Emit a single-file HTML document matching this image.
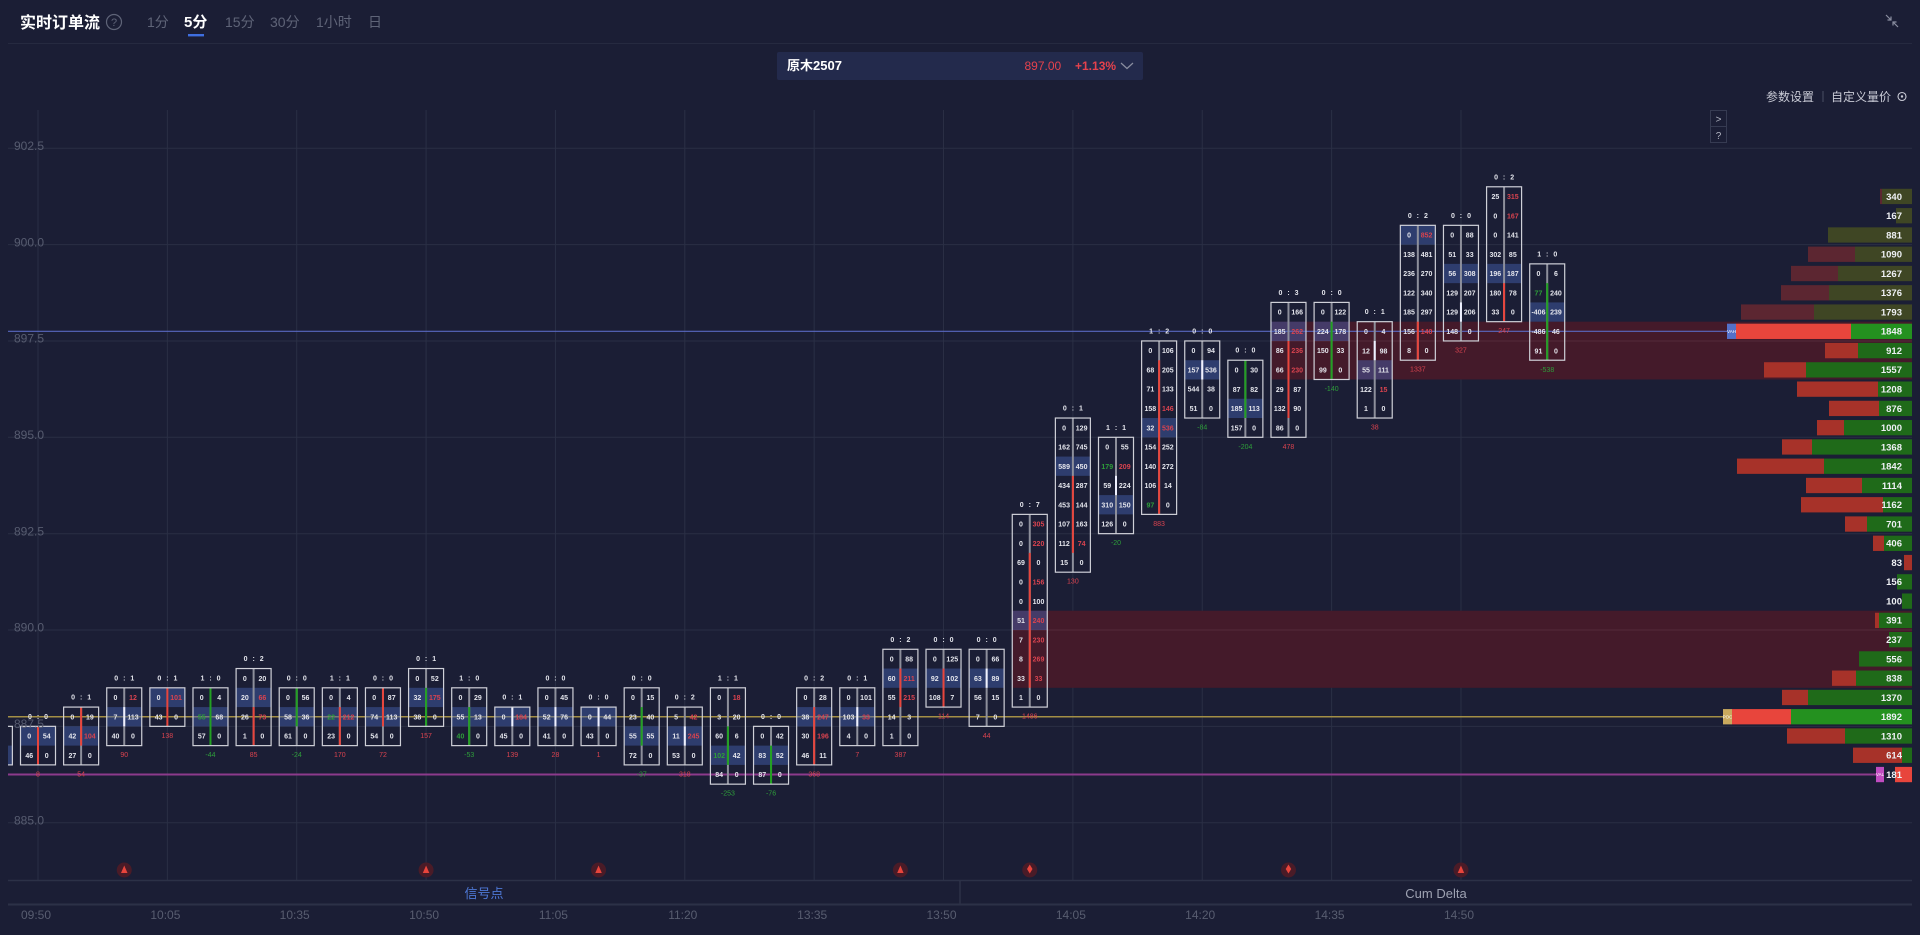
<!DOCTYPE html>
<html><head><meta charset="utf-8"><style>
html,body{margin:0;padding:0;background:#1b1e35;width:1920px;height:935px;overflow:hidden}
svg{display:block}
text{font-family:"Liberation Sans","Noto Sans CJK SC",sans-serif}
.bx{fill:none;stroke:#cfd0d8;stroke-width:1.2}
.h{fill:#4864b4;fill-opacity:.45}
.c{stroke:#8d8f9b;stroke-width:2}
.cr{stroke:#e8453c;stroke-width:2}
.cg{stroke:#22a022;stroke-width:2}
.cw{stroke:#eef0ff;stroke-width:2}
.n{font-size:7px;font-weight:bold;fill:#e4e5ec;text-anchor:middle}
.l{font-size:7px;font-weight:bold;fill:#e4e5ec;text-anchor:middle;word-spacing:3px}
.d{font-size:7px;text-anchor:middle}
.nr{fill:#d9434f}
.ng{fill:#2e9e3a}
.gl{stroke:#2a2f45;stroke-width:1}
.pl{font-size:12px;fill:#575c70}
.tl{font-size:12px;fill:#585d70;text-anchor:middle}
.vm{fill:#5c2631}.vo{fill:#3f4624}.vr{fill:#a73229}.vg{fill:#1f6a19}.vR{fill:#e8453c}.vG{fill:#24911f}
.vl{font-size:9.5px;font-weight:bold;fill:#eef0f4;text-anchor:end}
.tab{font-size:14px;fill:#5f6478}
</style></head><body>
<svg width="1920" height="935" viewBox="0 0 1920 935" xmlns="http://www.w3.org/2000/svg">
<defs><clipPath id="cp"><rect x="8" y="100" width="1904" height="780"/></clipPath></defs>

<!-- header -->
<text x="20" y="28" font-size="16" font-weight="bold" fill="#ffffff">实时订单流</text>
<circle cx="114" cy="22" r="7.5" fill="none" stroke="#5f6478" stroke-width="1.2"/>
<text x="114" y="26" font-size="11" fill="#5f6478" text-anchor="middle">?</text>
<text class="tab" x="147" y="27">1分</text>
<text x="184" y="27" font-size="15" font-weight="bold" fill="#ffffff">5分</text>
<text class="tab" x="225" y="27">15分</text>
<text class="tab" x="270" y="27">30分</text>
<text class="tab" x="316" y="27">1小时</text>
<text class="tab" x="368" y="27">日</text>
<rect x="188" y="34" width="16" height="2.4" fill="#3f6fe0"/>
<line x1="8" y1="43.5" x2="1912" y2="43.5" stroke="#262a40" stroke-width="1"/>
<path d="M1886,15 L1891,20 M1891,16.5 L1891,20 L1887.5,20 M1898,27 L1893,22 M1893,25.5 L1893,22 L1896.5,22" stroke="#8a8ea0" stroke-width="1.2" fill="none"/>

<!-- dropdown -->
<rect x="777" y="52" width="366" height="28" rx="2" fill="#232a4c"/>
<text x="787" y="70" font-size="13" font-weight="bold" fill="#ffffff">原木2507</text>
<text x="1024.5" y="70" font-size="12" fill="#e5424d">897.00</text>
<text x="1075" y="70" font-size="12" font-weight="bold" fill="#e5424d">+1.13%</text>
<polyline points="1121,63 1127,68.5 1133,63" fill="none" stroke="#8a8ea0" stroke-width="1.2"/>

<!-- right controls -->
<text x="1766" y="101" font-size="12" fill="#c9cbd6">参数设置</text>
<line x1="1823" y1="91" x2="1823" y2="102" stroke="#4a4e62"/>
<text x="1831" y="101" font-size="12" fill="#c9cbd6">自定义量价</text>
<circle cx="1902" cy="96.5" r="4" fill="none" stroke="#c9cbd6" stroke-width="1.1"/>
<circle cx="1902" cy="96.5" r="1.2" fill="#c9cbd6"/>
<rect x="1710.5" y="110.5" width="16" height="16" fill="none" stroke="#363b52"/>
<rect x="1710.5" y="126.5" width="16" height="16" fill="none" stroke="#363b52"/>
<text x="1718.5" y="122.5" font-size="10" fill="#b0b3c0" text-anchor="middle">&gt;</text>
<text x="1718.5" y="139" font-size="10" fill="#b0b3c0" text-anchor="middle">?</text>

<g clip-path="url(#cp)">
<!-- grid -->
<g class="gl">
<line x1="38" y1="110" x2="38" y2="880"/><line x1="167.36" y1="110" x2="167.36" y2="880"/><line x1="296.72" y1="110" x2="296.72" y2="880"/><line x1="426.08" y1="110" x2="426.08" y2="880"/><line x1="555.44" y1="110" x2="555.44" y2="880"/><line x1="684.8" y1="110" x2="684.8" y2="880"/><line x1="814.16" y1="110" x2="814.16" y2="880"/><line x1="943.52" y1="110" x2="943.52" y2="880"/><line x1="1072.88" y1="110" x2="1072.88" y2="880"/><line x1="1202.24" y1="110" x2="1202.24" y2="880"/><line x1="1331.6" y1="110" x2="1331.6" y2="880"/><line x1="1460.96" y1="110" x2="1460.96" y2="880"/>
<line x1="8" y1="148.3" x2="1912" y2="148.3"/><line x1="8" y1="244.6" x2="1912" y2="244.6"/><line x1="8" y1="341" x2="1912" y2="341"/><line x1="8" y1="437.3" x2="1912" y2="437.3"/><line x1="8" y1="533.7" x2="1912" y2="533.7"/><line x1="8" y1="630" x2="1912" y2="630"/><line x1="8" y1="726.35" x2="1912" y2="726.35"/><line x1="8" y1="822.7" x2="1912" y2="822.7"/>
</g>
<!-- zones -->
<rect x="1271.7" y="321.68" width="640.3" height="57.81" fill="#441a2a"/>
<rect x="1012.3" y="610.73" width="899.7" height="77.08" fill="#441a2a"/>
<line x1="1271.7" y1="341" x2="1912" y2="341" stroke="#55293a"/>
<line x1="1012.3" y1="630" x2="1912" y2="630" stroke="#55293a"/>
<!-- level lines -->
<line x1="8" y1="331.3" x2="1727" y2="331.3" stroke="#5868c0" stroke-width="1.2"/>
<line x1="8" y1="716.7" x2="1723" y2="716.7" stroke="#a38f45" stroke-width="1.5"/>
<line x1="8" y1="774.5" x2="1876" y2="774.5" stroke="#8c3a8c" stroke-width="2"/>

<!-- candles -->
<g transform="translate(-5.12,726.35)"><rect class="h" x="-17.5" y="19.27" width="35" height="19.27"/><line class="c" x1="0" y1="0" x2="0" y2="38.54"/><rect class="bx" x="-17.5" y="0" width="35" height="38.54"/></g>

<g transform="translate(38,726.35)"><text class="l" y="-7.5">0 : 0</text><rect class="h" x="-17.5" y="0" width="35" height="19.27"/><line class="cr" x1="0" y1="0" x2="0" y2="38.54"/><rect class="bx" x="-17.5" y="0" width="35" height="38.54"/>
<text class="n" x="-8.75" y="12.3">0</text><text class="n" x="8.75" y="12.3">54</text><text class="n" x="-8.75" y="31.6">46</text><text class="n" x="8.75" y="31.6">0</text><text class="d nr" y="50">8</text></g>

<g transform="translate(81.12,707.08)"><text class="l" y="-7.5">0 : 1</text><rect class="h" x="-17.5" y="19.27" width="35" height="19.27"/><line class="c" x1="0" y1="0" x2="0" y2="57.81"/><line class="cr" x1="0" y1="0" x2="0" y2="38.54"/><rect class="bx" x="-17.5" y="0" width="35" height="57.81"/>
<text class="n" x="-8.75" y="12.3">0</text><text class="n" x="8.75" y="12.3">19</text><text class="n" x="-8.75" y="31.6">42</text><text class="n nr" x="8.75" y="31.6">104</text><text class="n" x="-8.75" y="50.8">27</text><text class="n" x="8.75" y="50.8">0</text><text class="d nr" y="69.3">54</text></g>

<g transform="translate(124.24,687.81)"><text class="l" y="-7.5">0 : 1</text><rect class="h" x="-17.5" y="19.27" width="35" height="19.27"/><line class="c" x1="0" y1="0" x2="0" y2="57.81"/><line class="cw" x1="0" y1="19.27" x2="0" y2="38.54"/><rect class="bx" x="-17.5" y="0" width="35" height="57.81"/>
<text class="n" x="-8.75" y="12.3">0</text><text class="n nr" x="8.75" y="12.3">12</text><text class="n" x="-8.75" y="31.6">7</text><text class="n" x="8.75" y="31.6">113</text><text class="n" x="-8.75" y="50.8">40</text><text class="n" x="8.75" y="50.8">0</text><text class="d nr" y="69.3">90</text></g>

<g transform="translate(167.36,687.81)"><text class="l" y="-7.5">0 : 1</text><rect class="h" x="-17.5" y="0" width="35" height="19.27"/><line class="cr" x1="0" y1="0" x2="0" y2="38.54"/><rect class="bx" x="-17.5" y="0" width="35" height="38.54"/>
<text class="n" x="-8.75" y="12.3">0</text><text class="n nr" x="8.75" y="12.3">101</text><text class="n" x="-8.75" y="31.6">43</text><text class="n" x="8.75" y="31.6">0</text><text class="d nr" y="50">138</text></g>

<g transform="translate(210.48,687.81)"><text class="l" y="-7.5">1 : 0</text><rect class="h" x="-17.5" y="19.27" width="35" height="19.27"/><line class="cg" x1="0" y1="0" x2="0" y2="57.81"/><rect class="bx" x="-17.5" y="0" width="35" height="57.81"/>
<text class="n" x="-8.75" y="12.3">0</text><text class="n" x="8.75" y="12.3">4</text><text class="n ng" x="-8.75" y="31.6">55</text><text class="n" x="8.75" y="31.6">68</text><text class="n" x="-8.75" y="50.8">57</text><text class="n" x="8.75" y="50.8">0</text><text class="d ng" y="69.3">-44</text></g>

<g transform="translate(253.6,668.54)"><text class="l" y="-7.5">0 : 2</text><rect class="h" x="-17.5" y="19.27" width="35" height="19.27"/><line class="c" x1="0" y1="0" x2="0" y2="77.08"/><line class="cr" x1="0" y1="38.54" x2="0" y2="77.08"/><rect class="bx" x="-17.5" y="0" width="35" height="77.08"/>
<text class="n" x="-8.75" y="12.3">0</text><text class="n" x="8.75" y="12.3">20</text><text class="n" x="-8.75" y="31.6">20</text><text class="n nr" x="8.75" y="31.6">66</text><text class="n" x="-8.75" y="50.8">26</text><text class="n nr" x="8.75" y="50.8">73</text><text class="n" x="-8.75" y="70.1">1</text><text class="n" x="8.75" y="70.1">0</text><text class="d nr" y="88.6">85</text></g>

<g transform="translate(296.72,687.81)"><text class="l" y="-7.5">0 : 0</text><rect class="h" x="-17.5" y="19.27" width="35" height="19.27"/><line class="c" x1="0" y1="0" x2="0" y2="57.81"/><line class="cg" x1="0" y1="0" x2="0" y2="38.54"/><rect class="bx" x="-17.5" y="0" width="35" height="57.81"/>
<text class="n" x="-8.75" y="12.3">0</text><text class="n" x="8.75" y="12.3">56</text><text class="n" x="-8.75" y="31.6">58</text><text class="n" x="8.75" y="31.6">36</text><text class="n" x="-8.75" y="50.8">61</text><text class="n" x="8.75" y="50.8">0</text><text class="d ng" y="69.3">-24</text></g>

<g transform="translate(339.84,687.81)"><text class="l" y="-7.5">1 : 1</text><rect class="h" x="-17.5" y="19.27" width="35" height="19.27"/><line class="c" x1="0" y1="0" x2="0" y2="57.81"/><line class="cr" x1="0" y1="19.27" x2="0" y2="57.81"/><rect class="bx" x="-17.5" y="0" width="35" height="57.81"/>
<text class="n" x="-8.75" y="12.3">0</text><text class="n" x="8.75" y="12.3">4</text><text class="n ng" x="-8.75" y="31.6">22</text><text class="n nr" x="8.75" y="31.6">212</text><text class="n" x="-8.75" y="50.8">23</text><text class="n" x="8.75" y="50.8">0</text><text class="d nr" y="69.3">170</text></g>

<g transform="translate(382.96,687.81)"><text class="l" y="-7.5">0 : 0</text><rect class="h" x="-17.5" y="19.27" width="35" height="19.27"/><line class="c" x1="0" y1="0" x2="0" y2="57.81"/><line class="cr" x1="0" y1="0" x2="0" y2="38.54"/><rect class="bx" x="-17.5" y="0" width="35" height="57.81"/>
<text class="n" x="-8.75" y="12.3">0</text><text class="n" x="8.75" y="12.3">87</text><text class="n" x="-8.75" y="31.6">74</text><text class="n" x="8.75" y="31.6">113</text><text class="n" x="-8.75" y="50.8">54</text><text class="n" x="8.75" y="50.8">0</text><text class="d nr" y="69.3">72</text></g>

<g transform="translate(426.08,668.54)"><text class="l" y="-7.5">0 : 1</text><rect class="h" x="-17.5" y="19.27" width="35" height="19.27"/><line class="c" x1="0" y1="0" x2="0" y2="57.81"/><line class="cg" x1="0" y1="19.27" x2="0" y2="57.81"/><rect class="bx" x="-17.5" y="0" width="35" height="57.81"/>
<text class="n" x="-8.75" y="12.3">0</text><text class="n" x="8.75" y="12.3">52</text><text class="n" x="-8.75" y="31.6">32</text><text class="n nr" x="8.75" y="31.6">175</text><text class="n" x="-8.75" y="50.8">38</text><text class="n" x="8.75" y="50.8">0</text><text class="d nr" y="69.3">157</text></g>

<g transform="translate(469.2,687.81)"><text class="l" y="-7.5">1 : 0</text><rect class="h" x="-17.5" y="19.27" width="35" height="19.27"/><line class="c" x1="0" y1="0" x2="0" y2="57.81"/><line class="cg" x1="0" y1="19.27" x2="0" y2="57.81"/><rect class="bx" x="-17.5" y="0" width="35" height="57.81"/>
<text class="n" x="-8.75" y="12.3">0</text><text class="n" x="8.75" y="12.3">29</text><text class="n" x="-8.75" y="31.6">55</text><text class="n" x="8.75" y="31.6">13</text><text class="n ng" x="-8.75" y="50.8">40</text><text class="n" x="8.75" y="50.8">0</text><text class="d ng" y="69.3">-53</text></g>

<g transform="translate(512.32,707.08)"><text class="l" y="-7.5">0 : 1</text><rect class="h" x="-17.5" y="0" width="35" height="19.27"/><line class="c" x1="0" y1="0" x2="0" y2="38.54"/><line class="cw" x1="0" y1="0" x2="0" y2="19.27"/><rect class="bx" x="-17.5" y="0" width="35" height="38.54"/>
<text class="n" x="-8.75" y="12.3">0</text><text class="n nr" x="8.75" y="12.3">184</text><text class="n" x="-8.75" y="31.6">45</text><text class="n" x="8.75" y="31.6">0</text><text class="d nr" y="50">139</text></g>

<g transform="translate(555.44,687.81)"><text class="l" y="-7.5">0 : 0</text><rect class="h" x="-17.5" y="19.27" width="35" height="19.27"/><line class="c" x1="0" y1="0" x2="0" y2="57.81"/><line class="cw" x1="0" y1="19.27" x2="0" y2="38.54"/><rect class="bx" x="-17.5" y="0" width="35" height="57.81"/>
<text class="n" x="-8.75" y="12.3">0</text><text class="n" x="8.75" y="12.3">45</text><text class="n" x="-8.75" y="31.6">52</text><text class="n" x="8.75" y="31.6">76</text><text class="n" x="-8.75" y="50.8">41</text><text class="n" x="8.75" y="50.8">0</text><text class="d nr" y="69.3">28</text></g>

<g transform="translate(598.56,707.08)"><text class="l" y="-7.5">0 : 0</text><rect class="h" x="-17.5" y="0" width="35" height="19.27"/><line class="c" x1="0" y1="0" x2="0" y2="38.54"/><line class="cw" x1="0" y1="0" x2="0" y2="19.27"/><rect class="bx" x="-17.5" y="0" width="35" height="38.54"/>
<text class="n" x="-8.75" y="12.3">0</text><text class="n" x="8.75" y="12.3">44</text><text class="n" x="-8.75" y="31.6">43</text><text class="n" x="8.75" y="31.6">0</text><text class="d nr" y="50">1</text></g>

<g transform="translate(641.68,687.81)"><text class="l" y="-7.5">0 : 0</text><rect class="h" x="-17.5" y="38.54" width="35" height="19.27"/><line class="c" x1="0" y1="0" x2="0" y2="77.08"/><line class="cg" x1="0" y1="19.27" x2="0" y2="57.81"/><rect class="bx" x="-17.5" y="0" width="35" height="77.08"/>
<text class="n" x="-8.75" y="12.3">0</text><text class="n" x="8.75" y="12.3">15</text><text class="n" x="-8.75" y="31.6">23</text><text class="n" x="8.75" y="31.6">40</text><text class="n" x="-8.75" y="50.8">55</text><text class="n" x="8.75" y="50.8">55</text><text class="n" x="-8.75" y="70.1">72</text><text class="n" x="8.75" y="70.1">0</text><text class="d ng" y="88.6">-37</text></g>

<g transform="translate(684.8,707.08)"><text class="l" y="-7.5">0 : 2</text><rect class="h" x="-17.5" y="19.27" width="35" height="19.27"/><line class="c" x1="0" y1="0" x2="0" y2="57.81"/><line class="cw" x1="0" y1="19.27" x2="0" y2="38.54"/><rect class="bx" x="-17.5" y="0" width="35" height="57.81"/>
<text class="n" x="-8.75" y="12.3">5</text><text class="n nr" x="8.75" y="12.3">42</text><text class="n" x="-8.75" y="31.6">11</text><text class="n nr" x="8.75" y="31.6">245</text><text class="n" x="-8.75" y="50.8">53</text><text class="n" x="8.75" y="50.8">0</text><text class="d nr" y="69.3">318</text></g>

<g transform="translate(727.92,687.81)"><text class="l" y="-7.5">1 : 1</text><rect class="h" x="-17.5" y="57.81" width="35" height="19.27"/><line class="c" x1="0" y1="0" x2="0" y2="96.35"/><line class="cg" x1="0" y1="38.54" x2="0" y2="77.08"/><rect class="bx" x="-17.5" y="0" width="35" height="96.35"/>
<text class="n" x="-8.75" y="12.3">0</text><text class="n nr" x="8.75" y="12.3">18</text><text class="n" x="-8.75" y="31.6">3</text><text class="n" x="8.75" y="31.6">20</text><text class="n" x="-8.75" y="50.8">60</text><text class="n" x="8.75" y="50.8">6</text><text class="n ng" x="-8.75" y="70.1">102</text><text class="n" x="8.75" y="70.1">42</text><text class="n" x="-8.75" y="89.4">84</text><text class="n" x="8.75" y="89.4">0</text><text class="d ng" y="107.9">-253</text></g>

<g transform="translate(771.04,726.35)"><text class="l" y="-7.5">0 : 0</text><rect class="h" x="-17.5" y="19.27" width="35" height="19.27"/><line class="c" x1="0" y1="0" x2="0" y2="57.81"/><line class="cg" x1="0" y1="19.27" x2="0" y2="57.81"/><rect class="bx" x="-17.5" y="0" width="35" height="57.81"/>
<text class="n" x="-8.75" y="12.3">0</text><text class="n" x="8.75" y="12.3">42</text><text class="n" x="-8.75" y="31.6">83</text><text class="n" x="8.75" y="31.6">52</text><text class="n" x="-8.75" y="50.8">87</text><text class="n" x="8.75" y="50.8">0</text><text class="d ng" y="69.3">-76</text></g>

<g transform="translate(814.16,687.81)"><text class="l" y="-7.5">0 : 2</text><rect class="h" x="-17.5" y="19.27" width="35" height="19.27"/><line class="c" x1="0" y1="0" x2="0" y2="77.08"/><line class="cr" x1="0" y1="19.27" x2="0" y2="77.08"/><rect class="bx" x="-17.5" y="0" width="35" height="77.08"/>
<text class="n" x="-8.75" y="12.3">0</text><text class="n" x="8.75" y="12.3">28</text><text class="n" x="-8.75" y="31.6">38</text><text class="n nr" x="8.75" y="31.6">247</text><text class="n" x="-8.75" y="50.8">30</text><text class="n nr" x="8.75" y="50.8">196</text><text class="n" x="-8.75" y="70.1">46</text><text class="n" x="8.75" y="70.1">11</text><text class="d nr" y="88.6">368</text></g>

<g transform="translate(857.28,687.81)"><text class="l" y="-7.5">0 : 1</text><rect class="h" x="-17.5" y="19.27" width="35" height="19.27"/><line class="c" x1="0" y1="0" x2="0" y2="57.81"/><line class="cw" x1="0" y1="19.27" x2="0" y2="38.54"/><rect class="bx" x="-17.5" y="0" width="35" height="57.81"/>
<text class="n" x="-8.75" y="12.3">0</text><text class="n" x="8.75" y="12.3">101</text><text class="n" x="-8.75" y="31.6">103</text><text class="n nr" x="8.75" y="31.6">33</text><text class="n" x="-8.75" y="50.8">4</text><text class="n" x="8.75" y="50.8">0</text><text class="d nr" y="69.3">7</text></g>

<g transform="translate(900.4,649.27)"><text class="l" y="-7.5">0 : 2</text><rect class="h" x="-17.5" y="19.27" width="35" height="19.27"/><line class="c" x1="0" y1="0" x2="0" y2="96.35"/><line class="cr" x1="0" y1="19.27" x2="0" y2="57.81"/><rect class="bx" x="-17.5" y="0" width="35" height="96.35"/>
<text class="n" x="-8.75" y="12.3">0</text><text class="n" x="8.75" y="12.3">88</text><text class="n" x="-8.75" y="31.6">60</text><text class="n nr" x="8.75" y="31.6">211</text><text class="n" x="-8.75" y="50.8">55</text><text class="n nr" x="8.75" y="50.8">215</text><text class="n" x="-8.75" y="70.1">14</text><text class="n" x="8.75" y="70.1">3</text><text class="n" x="-8.75" y="89.4">1</text><text class="n" x="8.75" y="89.4">0</text><text class="d nr" y="107.9">387</text></g>

<g transform="translate(943.52,649.27)"><text class="l" y="-7.5">0 : 0</text><rect class="h" x="-17.5" y="19.27" width="35" height="19.27"/><line class="c" x1="0" y1="0" x2="0" y2="57.81"/><line class="cr" x1="0" y1="19.27" x2="0" y2="57.81"/><rect class="bx" x="-17.5" y="0" width="35" height="57.81"/>
<text class="n" x="-8.75" y="12.3">0</text><text class="n" x="8.75" y="12.3">125</text><text class="n" x="-8.75" y="31.6">92</text><text class="n" x="8.75" y="31.6">102</text><text class="n" x="-8.75" y="50.8">108</text><text class="n" x="8.75" y="50.8">7</text><text class="d nr" y="69.3">114</text></g>

<g transform="translate(986.64,649.27)"><text class="l" y="-7.5">0 : 0</text><rect class="h" x="-17.5" y="19.27" width="35" height="19.27"/><line class="c" x1="0" y1="0" x2="0" y2="77.08"/><line class="cw" x1="0" y1="19.27" x2="0" y2="38.54"/><rect class="bx" x="-17.5" y="0" width="35" height="77.08"/>
<text class="n" x="-8.75" y="12.3">0</text><text class="n" x="8.75" y="12.3">66</text><text class="n" x="-8.75" y="31.6">63</text><text class="n" x="8.75" y="31.6">89</text><text class="n" x="-8.75" y="50.8">56</text><text class="n" x="8.75" y="50.8">15</text><text class="n" x="-8.75" y="70.1">7</text><text class="n" x="8.75" y="70.1">0</text><text class="d nr" y="88.6">44</text></g>

<g transform="translate(1029.76,514.38)"><text class="l" y="-7.5">0 : 7</text><rect class="h" x="-17.5" y="96.35" width="35" height="19.27"/><line class="c" x1="0" y1="0" x2="0" y2="192.7"/><line class="cr" x1="0" y1="38.54" x2="0" y2="173.43"/><rect class="bx" x="-17.5" y="0" width="35" height="192.7"/>
<text class="n" x="-8.75" y="12.3">0</text><text class="n nr" x="8.75" y="12.3">305</text><text class="n" x="-8.75" y="31.6">0</text><text class="n nr" x="8.75" y="31.6">220</text><text class="n" x="-8.75" y="50.8">69</text><text class="n" x="8.75" y="50.8">0</text><text class="n" x="-8.75" y="70.1">0</text><text class="n nr" x="8.75" y="70.1">156</text><text class="n" x="-8.75" y="89.4">0</text><text class="n" x="8.75" y="89.4">100</text><text class="n" x="-8.75" y="108.7">51</text><text class="n nr" x="8.75" y="108.7">240</text><text class="n" x="-8.75" y="127.9">7</text><text class="n nr" x="8.75" y="127.9">230</text><text class="n" x="-8.75" y="147.2">8</text><text class="n nr" x="8.75" y="147.2">269</text><text class="n" x="-8.75" y="166.5">33</text><text class="n nr" x="8.75" y="166.5">33</text><text class="n" x="-8.75" y="185.7">1</text><text class="n" x="8.75" y="185.7">0</text><text class="d nr" y="204.2">1486</text></g>

<g transform="translate(1072.88,418.03)"><text class="l" y="-7.5">0 : 1</text><rect class="h" x="-17.5" y="38.54" width="35" height="19.27"/><line class="c" x1="0" y1="0" x2="0" y2="154.16"/><line class="cr" x1="0" y1="57.81" x2="0" y2="134.89"/><rect class="bx" x="-17.5" y="0" width="35" height="154.16"/>
<text class="n" x="-8.75" y="12.3">0</text><text class="n" x="8.75" y="12.3">129</text><text class="n" x="-8.75" y="31.6">162</text><text class="n" x="8.75" y="31.6">745</text><text class="n" x="-8.75" y="50.8">589</text><text class="n" x="8.75" y="50.8">450</text><text class="n" x="-8.75" y="70.1">434</text><text class="n" x="8.75" y="70.1">287</text><text class="n" x="-8.75" y="89.4">453</text><text class="n" x="8.75" y="89.4">144</text><text class="n" x="-8.75" y="108.7">107</text><text class="n" x="8.75" y="108.7">163</text><text class="n" x="-8.75" y="127.9">112</text><text class="n nr" x="8.75" y="127.9">74</text><text class="n" x="-8.75" y="147.2">15</text><text class="n" x="8.75" y="147.2">0</text><text class="d nr" y="165.7">130</text></g>

<g transform="translate(1116,437.3)"><text class="l" y="-7.5">1 : 1</text><rect class="h" x="-17.5" y="57.81" width="35" height="19.27"/><line class="c" x1="0" y1="0" x2="0" y2="96.35"/><line class="cw" x1="0" y1="38.54" x2="0" y2="57.81"/><rect class="bx" x="-17.5" y="0" width="35" height="96.35"/>
<text class="n" x="-8.75" y="12.3">0</text><text class="n" x="8.75" y="12.3">55</text><text class="n ng" x="-8.75" y="31.6">179</text><text class="n nr" x="8.75" y="31.6">209</text><text class="n" x="-8.75" y="50.8">59</text><text class="n" x="8.75" y="50.8">224</text><text class="n" x="-8.75" y="70.1">310</text><text class="n" x="8.75" y="70.1">150</text><text class="n" x="-8.75" y="89.4">126</text><text class="n" x="8.75" y="89.4">0</text><text class="d ng" y="107.9">-20</text></g>

<g transform="translate(1159.12,340.95)"><text class="l" y="-7.5">1 : 2</text><rect class="h" x="-17.5" y="77.08" width="35" height="19.27"/><line class="c" x1="0" y1="0" x2="0" y2="173.43"/><line class="cr" x1="0" y1="19.27" x2="0" y2="173.43"/><rect class="bx" x="-17.5" y="0" width="35" height="173.43"/>
<text class="n" x="-8.75" y="12.3">0</text><text class="n" x="8.75" y="12.3">106</text><text class="n" x="-8.75" y="31.6">68</text><text class="n" x="8.75" y="31.6">205</text><text class="n" x="-8.75" y="50.8">71</text><text class="n" x="8.75" y="50.8">133</text><text class="n" x="-8.75" y="70.1">158</text><text class="n nr" x="8.75" y="70.1">146</text><text class="n" x="-8.75" y="89.4">32</text><text class="n nr" x="8.75" y="89.4">536</text><text class="n" x="-8.75" y="108.7">154</text><text class="n" x="8.75" y="108.7">252</text><text class="n" x="-8.75" y="127.9">140</text><text class="n" x="8.75" y="127.9">272</text><text class="n" x="-8.75" y="147.2">106</text><text class="n" x="8.75" y="147.2">14</text><text class="n ng" x="-8.75" y="166.5">97</text><text class="n" x="8.75" y="166.5">0</text><text class="d nr" y="184.9">883</text></g>

<g transform="translate(1202.24,340.95)"><text class="l" y="-7.5">0 : 0</text><rect class="h" x="-17.5" y="19.27" width="35" height="19.27"/><line class="c" x1="0" y1="0" x2="0" y2="77.08"/><line class="cw" x1="0" y1="19.27" x2="0" y2="38.54"/><rect class="bx" x="-17.5" y="0" width="35" height="77.08"/>
<text class="n" x="-8.75" y="12.3">0</text><text class="n" x="8.75" y="12.3">94</text><text class="n" x="-8.75" y="31.6">157</text><text class="n" x="8.75" y="31.6">536</text><text class="n" x="-8.75" y="50.8">544</text><text class="n" x="8.75" y="50.8">38</text><text class="n" x="-8.75" y="70.1">51</text><text class="n" x="8.75" y="70.1">0</text><text class="d ng" y="88.6">-84</text></g>

<g transform="translate(1245.36,360.22)"><text class="l" y="-7.5">0 : 0</text><rect class="h" x="-17.5" y="38.54" width="35" height="19.27"/><line class="c" x1="0" y1="0" x2="0" y2="77.08"/><line class="cg" x1="0" y1="0" x2="0" y2="57.81"/><rect class="bx" x="-17.5" y="0" width="35" height="77.08"/>
<text class="n" x="-8.75" y="12.3">0</text><text class="n" x="8.75" y="12.3">30</text><text class="n" x="-8.75" y="31.6">87</text><text class="n" x="8.75" y="31.6">82</text><text class="n" x="-8.75" y="50.8">185</text><text class="n" x="8.75" y="50.8">113</text><text class="n" x="-8.75" y="70.1">157</text><text class="n" x="8.75" y="70.1">0</text><text class="d ng" y="88.6">-204</text></g>

<g transform="translate(1288.48,302.41)"><text class="l" y="-7.5">0 : 3</text><rect class="h" x="-17.5" y="19.27" width="35" height="19.27"/><line class="c" x1="0" y1="0" x2="0" y2="134.89"/><line class="cr" x1="0" y1="38.54" x2="0" y2="115.62"/><rect class="bx" x="-17.5" y="0" width="35" height="134.89"/>
<text class="n" x="-8.75" y="12.3">0</text><text class="n" x="8.75" y="12.3">166</text><text class="n" x="-8.75" y="31.6">185</text><text class="n nr" x="8.75" y="31.6">262</text><text class="n" x="-8.75" y="50.8">86</text><text class="n nr" x="8.75" y="50.8">236</text><text class="n" x="-8.75" y="70.1">66</text><text class="n nr" x="8.75" y="70.1">230</text><text class="n" x="-8.75" y="89.4">29</text><text class="n" x="8.75" y="89.4">87</text><text class="n" x="-8.75" y="108.7">132</text><text class="n" x="8.75" y="108.7">90</text><text class="n" x="-8.75" y="127.9">86</text><text class="n" x="8.75" y="127.9">0</text><text class="d nr" y="146.4">478</text></g>

<g transform="translate(1331.6,302.41)"><text class="l" y="-7.5">0 : 0</text><rect class="h" x="-17.5" y="19.27" width="35" height="19.27"/><line class="c" x1="0" y1="0" x2="0" y2="77.08"/><line class="cg" x1="0" y1="19.27" x2="0" y2="77.08"/><rect class="bx" x="-17.5" y="0" width="35" height="77.08"/>
<text class="n" x="-8.75" y="12.3">0</text><text class="n" x="8.75" y="12.3">122</text><text class="n" x="-8.75" y="31.6">224</text><text class="n" x="8.75" y="31.6">178</text><text class="n" x="-8.75" y="50.8">150</text><text class="n" x="8.75" y="50.8">33</text><text class="n" x="-8.75" y="70.1">99</text><text class="n" x="8.75" y="70.1">0</text><text class="d ng" y="88.6">-140</text></g>

<g transform="translate(1374.72,321.68)"><text class="l" y="-7.5">0 : 1</text><rect class="h" x="-17.5" y="38.54" width="35" height="19.27"/><line class="c" x1="0" y1="0" x2="0" y2="96.35"/><line class="cw" x1="0" y1="19.27" x2="0" y2="38.54"/><rect class="bx" x="-17.5" y="0" width="35" height="96.35"/>
<text class="n" x="-8.75" y="12.3">0</text><text class="n" x="8.75" y="12.3">4</text><text class="n" x="-8.75" y="31.6">12</text><text class="n" x="8.75" y="31.6">98</text><text class="n" x="-8.75" y="50.8">55</text><text class="n" x="8.75" y="50.8">111</text><text class="n" x="-8.75" y="70.1">122</text><text class="n nr" x="8.75" y="70.1">15</text><text class="n" x="-8.75" y="89.4">1</text><text class="n" x="8.75" y="89.4">0</text><text class="d nr" y="107.9">38</text></g>

<g transform="translate(1417.84,225.33)"><text class="l" y="-7.5">0 : 2</text><rect class="h" x="-17.5" y="0" width="35" height="19.27"/><line class="c" x1="0" y1="0" x2="0" y2="134.89"/><line class="cr" x1="0" y1="96.35" x2="0" y2="134.89"/><rect class="bx" x="-17.5" y="0" width="35" height="134.89"/>
<text class="n" x="-8.75" y="12.3">0</text><text class="n nr" x="8.75" y="12.3">852</text><text class="n" x="-8.75" y="31.6">138</text><text class="n" x="8.75" y="31.6">481</text><text class="n" x="-8.75" y="50.8">236</text><text class="n" x="8.75" y="50.8">270</text><text class="n" x="-8.75" y="70.1">122</text><text class="n" x="8.75" y="70.1">340</text><text class="n" x="-8.75" y="89.4">185</text><text class="n" x="8.75" y="89.4">297</text><text class="n" x="-8.75" y="108.7">156</text><text class="n nr" x="8.75" y="108.7">140</text><text class="n" x="-8.75" y="127.9">8</text><text class="n" x="8.75" y="127.9">0</text><text class="d nr" y="146.4">1337</text></g>

<g transform="translate(1460.96,225.33)"><text class="l" y="-7.5">0 : 0</text><rect class="h" x="-17.5" y="38.54" width="35" height="19.27"/><line class="c" x1="0" y1="0" x2="0" y2="115.62"/><line class="cw" x1="0" y1="77.08" x2="0" y2="96.35"/><rect class="bx" x="-17.5" y="0" width="35" height="115.62"/>
<text class="n" x="-8.75" y="12.3">0</text><text class="n" x="8.75" y="12.3">88</text><text class="n" x="-8.75" y="31.6">51</text><text class="n" x="8.75" y="31.6">33</text><text class="n" x="-8.75" y="50.8">56</text><text class="n" x="8.75" y="50.8">308</text><text class="n" x="-8.75" y="70.1">129</text><text class="n" x="8.75" y="70.1">207</text><text class="n" x="-8.75" y="89.4">129</text><text class="n" x="8.75" y="89.4">206</text><text class="n" x="-8.75" y="108.7">148</text><text class="n" x="8.75" y="108.7">0</text><text class="d nr" y="127.1">327</text></g>

<g transform="translate(1504.08,186.79)"><text class="l" y="-7.5">0 : 2</text><rect class="h" x="-17.5" y="77.08" width="35" height="19.27"/><line class="c" x1="0" y1="0" x2="0" y2="134.89"/><line class="cr" x1="0" y1="96.35" x2="0" y2="134.89"/><rect class="bx" x="-17.5" y="0" width="35" height="134.89"/>
<text class="n" x="-8.75" y="12.3">25</text><text class="n nr" x="8.75" y="12.3">315</text><text class="n" x="-8.75" y="31.6">0</text><text class="n nr" x="8.75" y="31.6">167</text><text class="n" x="-8.75" y="50.8">0</text><text class="n" x="8.75" y="50.8">141</text><text class="n" x="-8.75" y="70.1">302</text><text class="n" x="8.75" y="70.1">85</text><text class="n" x="-8.75" y="89.4">196</text><text class="n" x="8.75" y="89.4">187</text><text class="n" x="-8.75" y="108.7">180</text><text class="n" x="8.75" y="108.7">78</text><text class="n" x="-8.75" y="127.9">33</text><text class="n" x="8.75" y="127.9">0</text><text class="d nr" y="146.4">247</text></g>

<g transform="translate(1547.2,263.87)"><text class="l" y="-7.5">1 : 0</text><rect class="h" x="-17.5" y="38.54" width="35" height="19.27"/><line class="c" x1="0" y1="0" x2="0" y2="96.35"/><line class="cg" x1="0" y1="19.27" x2="0" y2="96.35"/><rect class="bx" x="-17.5" y="0" width="35" height="96.35"/>
<text class="n" x="-8.75" y="12.3">0</text><text class="n" x="8.75" y="12.3">6</text><text class="n ng" x="-8.75" y="31.6">77</text><text class="n" x="8.75" y="31.6">240</text><text class="n" x="-8.75" y="50.8">-406</text><text class="n" x="8.75" y="50.8">239</text><text class="n" x="-8.75" y="70.1">-486</text><text class="n" x="8.75" y="70.1">46</text><text class="n" x="-8.75" y="89.4">91</text><text class="n" x="8.75" y="89.4">0</text><text class="d ng" y="107.9">-538</text></g>

<!-- volume profile -->
<rect class="vm" x="1880" y="188.79" width="2" height="15.3"/><rect class="vo" x="1882" y="188.79" width="30" height="15.3"/><text class="vl" x="1902" y="199.8">340</text>
<rect class="vo" x="1896" y="208.06" width="16" height="15.3"/><text class="vl" x="1902" y="219.1">167</text>
<rect class="vo" x="1828" y="227.33" width="84" height="15.3"/><text class="vl" x="1902" y="238.3">881</text>
<rect class="vm" x="1808" y="246.6" width="47" height="15.3"/><rect class="vo" x="1855" y="246.6" width="57" height="15.3"/><text class="vl" x="1902" y="257.6">1090</text>
<rect class="vm" x="1791" y="265.87" width="47" height="15.3"/><rect class="vo" x="1838" y="265.87" width="74" height="15.3"/><text class="vl" x="1902" y="276.9">1267</text>
<rect class="vm" x="1781" y="285.14" width="48" height="15.3"/><rect class="vo" x="1829" y="285.14" width="83" height="15.3"/><text class="vl" x="1902" y="296.1">1376</text>
<rect class="vm" x="1741" y="304.41" width="73" height="15.3"/><rect class="vo" x="1814" y="304.41" width="98" height="15.3"/><text class="vl" x="1902" y="315.4">1793</text>
<rect x="1727" y="323.68" width="9" height="15.3" fill="#5470c8"/><text x="1731.5" y="333" font-size="4.5" fill="#fff" text-anchor="middle">VAH</text><rect class="vR" x="1736" y="323.68" width="115" height="15.3"/><rect class="vG" x="1851" y="323.68" width="61" height="15.3"/><text class="vl" x="1902" y="334.7">1848</text>
<rect class="vr" x="1825" y="342.95" width="33" height="15.3"/><rect class="vg" x="1858" y="342.95" width="54" height="15.3"/><text class="vl" x="1902" y="354">912</text>
<rect class="vr" x="1764" y="362.22" width="42" height="15.3"/><rect class="vg" x="1806" y="362.22" width="106" height="15.3"/><text class="vl" x="1902" y="373.2">1557</text>
<rect class="vr" x="1797" y="381.49" width="81" height="15.3"/><rect class="vg" x="1878" y="381.49" width="34" height="15.3"/><text class="vl" x="1902" y="392.5">1208</text>
<rect class="vr" x="1829" y="400.76" width="50" height="15.3"/><rect class="vg" x="1879" y="400.76" width="33" height="15.3"/><text class="vl" x="1902" y="411.8">876</text>
<rect class="vr" x="1817" y="420.03" width="27" height="15.3"/><rect class="vg" x="1844" y="420.03" width="68" height="15.3"/><text class="vl" x="1902" y="431">1000</text>
<rect class="vr" x="1782" y="439.3" width="30" height="15.3"/><rect class="vg" x="1812" y="439.3" width="100" height="15.3"/><text class="vl" x="1902" y="450.3">1368</text>
<rect class="vr" x="1737" y="458.57" width="87" height="15.3"/><rect class="vg" x="1824" y="458.57" width="88" height="15.3"/><text class="vl" x="1902" y="469.6">1842</text>
<rect class="vr" x="1806" y="477.84" width="56" height="15.3"/><rect class="vg" x="1862" y="477.84" width="50" height="15.3"/><text class="vl" x="1902" y="488.8">1114</text>
<rect class="vr" x="1801" y="497.11" width="82" height="15.3"/><rect class="vg" x="1883" y="497.11" width="29" height="15.3"/><text class="vl" x="1902" y="508.1">1162</text>
<rect class="vr" x="1845" y="516.38" width="22" height="15.3"/><rect class="vg" x="1867" y="516.38" width="45" height="15.3"/><text class="vl" x="1902" y="527.4">701</text>
<rect class="vr" x="1873" y="535.65" width="11" height="15.3"/><rect class="vg" x="1884" y="535.65" width="28" height="15.3"/><text class="vl" x="1902" y="546.6">406</text>
<rect class="vr" x="1904" y="554.92" width="8" height="15.3"/><text class="vl" x="1902" y="565.9">83</text>
<rect class="vg" x="1897" y="574.19" width="15" height="15.3"/><text class="vl" x="1902" y="585.2">156</text>
<rect class="vg" x="1902" y="593.46" width="10" height="15.3"/><text class="vl" x="1902" y="604.5">100</text>
<rect class="vr" x="1875" y="612.73" width="4" height="15.3"/><rect class="vg" x="1879" y="612.73" width="33" height="15.3"/><text class="vl" x="1902" y="623.7">391</text>
<rect class="vg" x="1889" y="632" width="23" height="15.3"/><text class="vl" x="1902" y="643">237</text>
<rect class="vg" x="1859" y="651.27" width="53" height="15.3"/><text class="vl" x="1902" y="662.3">556</text>
<rect class="vr" x="1832" y="670.54" width="24" height="15.3"/><rect class="vg" x="1856" y="670.54" width="56" height="15.3"/><text class="vl" x="1902" y="681.5">838</text>
<rect class="vr" x="1782" y="689.81" width="26" height="15.3"/><rect class="vg" x="1808" y="689.81" width="104" height="15.3"/><text class="vl" x="1902" y="700.8">1370</text>
<rect x="1723" y="709.08" width="9" height="15.3" fill="#c9a95e"/><text x="1727.5" y="718.4" font-size="4.5" fill="#fff" text-anchor="middle">POC</text><rect class="vR" x="1732" y="709.08" width="59" height="15.3"/><rect class="vG" x="1791" y="709.08" width="121" height="15.3"/><text class="vl" x="1902" y="720.1">1892</text>
<rect class="vr" x="1787" y="728.35" width="58" height="15.3"/><rect class="vg" x="1845" y="728.35" width="67" height="15.3"/><text class="vl" x="1902" y="739.4">1310</text>
<rect class="vr" x="1853" y="747.62" width="49" height="15.3"/><rect class="vg" x="1902" y="747.62" width="10" height="15.3"/><text class="vl" x="1902" y="758.6">614</text>
<rect x="1876" y="766.89" width="8" height="15.3" fill="#c04cc0"/><text x="1880" y="776.2" font-size="4.5" fill="#fff" text-anchor="middle">VAL</text><rect class="vR" x="1895" y="766.89" width="17" height="15.3"/><text class="vl" x="1902" y="777.9">181</text>
</g>

<!-- price labels -->
<text class="pl" x="14" y="150">902.5</text>
<text class="pl" x="14" y="246.3">900.0</text>
<text class="pl" x="14" y="342.7">897.5</text>
<text class="pl" x="14" y="439">895.0</text>
<text class="pl" x="14" y="535.4">892.5</text>
<text class="pl" x="14" y="631.7">890.0</text>
<text class="pl" x="14" y="728">887.5</text>
<text class="pl" x="14" y="824.4">885.0</text>

<!-- signal markers -->
<g fill="#4a1b27">
<circle cx="124.24" cy="870" r="7.5"/><circle cx="426.08" cy="870" r="7.5"/><circle cx="598.56" cy="870" r="7.5"/><circle cx="900.4" cy="870" r="7.5"/><circle cx="1029.76" cy="870" r="7.5"/><circle cx="1288.48" cy="870" r="7.5"/><circle cx="1460.96" cy="870" r="7.5"/>
</g>
<g fill="#e8453c">
<path d="M124.24,865.5 L127.5,873 L121,873Z"/><path d="M426.08,865.5 L429.3,873 L422.8,873Z"/><path d="M598.56,865.5 L601.8,873 L595.3,873Z"/><path d="M900.4,865.5 L903.6,873 L897.2,873Z"/><path d="M1029.76,864.5 L1032.5,869 L1029.76,873.5 L1027,869Z"/><path d="M1288.48,864.5 L1291.2,869 L1288.48,873.5 L1285.7,869Z"/><path d="M1460.96,865.5 L1464.2,873 L1457.7,873Z"/>
</g>

<!-- bottom panel -->
<line x1="8" y1="880.5" x2="1912" y2="880.5" stroke="#2c3147" stroke-width="1.5"/>
<line x1="960" y1="881" x2="960" y2="904" stroke="#34394f" stroke-width="1"/>
<text x="484" y="898" font-size="13" fill="#4e78d6" text-anchor="middle">信号点</text>
<text x="1436" y="898" font-size="13" fill="#9ea2b2" text-anchor="middle">Cum Delta</text>
<line x1="8" y1="904.5" x2="1912" y2="904.5" stroke="#2c3147" stroke-width="2"/>
<text class="tl" x="36" y="919">09:50</text>
<text class="tl" x="165.4" y="919">10:05</text>
<text class="tl" x="294.7" y="919">10:35</text>
<text class="tl" x="424.1" y="919">10:50</text>
<text class="tl" x="553.4" y="919">11:05</text>
<text class="tl" x="682.8" y="919">11:20</text>
<text class="tl" x="812.2" y="919">13:35</text>
<text class="tl" x="941.5" y="919">13:50</text>
<text class="tl" x="1070.9" y="919">14:05</text>
<text class="tl" x="1200.2" y="919">14:20</text>
<text class="tl" x="1329.6" y="919">14:35</text>
<text class="tl" x="1459" y="919">14:50</text>
</svg>
</body></html>
